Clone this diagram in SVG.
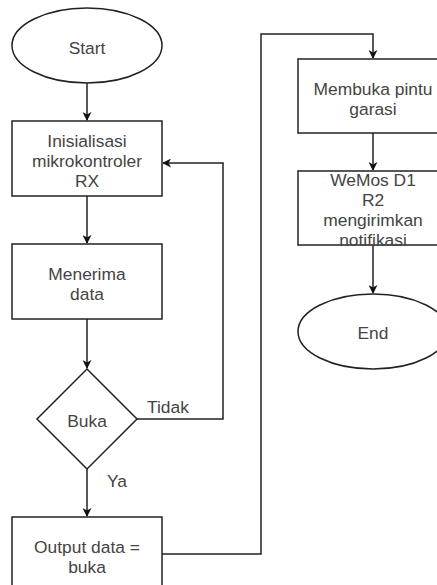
<svg xmlns="http://www.w3.org/2000/svg" width="437" height="585" viewBox="0 0 437 585">
<style>
.s{fill:#fff;stroke:#222;stroke-width:1.5}
.c{fill:none;stroke:#222;stroke-width:1.5}
text{font-family:"Liberation Sans",Arial,sans-serif;font-size:17.4px;fill:#444;text-anchor:middle}
.l{text-anchor:start}
</style>
<defs>
<marker id="a" viewBox="0 0 10 10" refX="9" refY="5" markerWidth="9" markerHeight="9" markerUnits="userSpaceOnUse" orient="auto">
<path d="M0,0 L10,5 L0,10 L3,5 Z" fill="#111"/>
</marker>
</defs>
<rect width="437" height="585" fill="#fff"/>
<g id="connectors">
<path class="c" d="M87,83 V120" marker-end="url(#a)"/>
<path class="c" d="M87,196 V243" marker-end="url(#a)"/>
<path class="c" d="M87,319 V368" marker-end="url(#a)"/>
<path class="c" d="M87,469 V516" marker-end="url(#a)"/>
<path class="c" d="M137,419 H223 V163 H163" marker-end="url(#a)"/>
<path class="c" d="M162,554 H261 V34 H373 V58" marker-end="url(#a)"/>
<path class="c" d="M373,133 V170" marker-end="url(#a)"/>
<path class="c" d="M373,245 V293" marker-end="url(#a)"/>
<text class="l" x="147" y="413">Tidak</text>
<text class="l" x="107" y="487">Ya</text>
</g>
<g id="start"><ellipse class="s" cx="87" cy="45.5" rx="75" ry="37.5"/><text x="87" y="54">Start</text></g>
<g id="init"><rect class="s" x="12" y="121" width="150" height="75"/><text x="87" y="146.5">Inisialisasi</text><text x="87" y="166.5">mikrokontroler</text><text x="87" y="186.5">RX</text></g>
<g id="terima"><rect class="s" x="12" y="244" width="150" height="75"/><text x="87" y="279.5">Menerima</text><text x="87" y="299.5">data</text></g>
<g id="buka"><path class="s" d="M87,369 L137,419 L87,469 L37,419 Z"/><text x="87" y="426.5">Buka</text></g>
<g id="output"><rect class="s" x="12" y="517" width="150" height="75"/><text x="87" y="552.5">Output data =</text><text x="87" y="572.5">buka</text></g>
<g id="membuka"><rect class="s" x="298" y="59" width="150" height="74"/><text x="373" y="95">Membuka pintu</text><text x="373" y="115">garasi</text></g>
<g id="wemos"><rect class="s" x="298" y="171" width="150" height="74"/><text x="373" y="185.5">WeMos D1</text><text x="373" y="205.5">R2</text><text x="373" y="225.5">mengirimkan</text><text x="373" y="245.5">notifikasi</text></g>
<g id="end"><ellipse class="s" cx="373" cy="331.5" rx="75" ry="37.5"/><text x="373" y="338.5">End</text></g>
</svg>
